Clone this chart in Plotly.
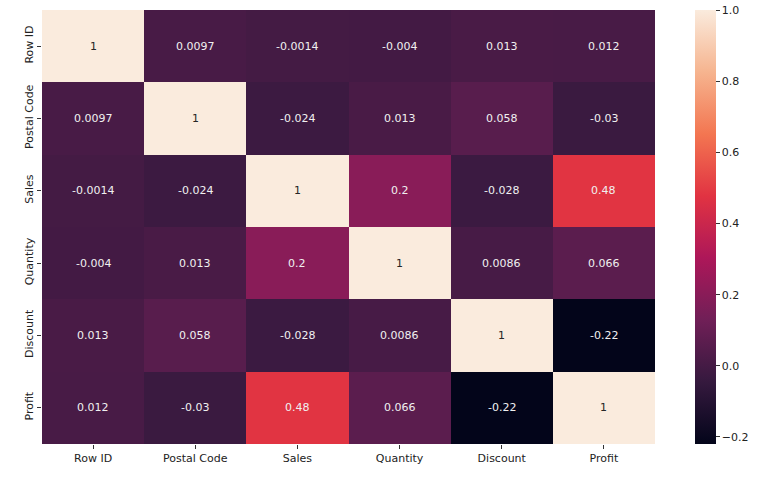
import plotly.graph_objects as go

labels = ["Row ID", "Postal Code", "Sales", "Quantity", "Discount", "Profit"]
corr = [
    [1, 0.0097, -0.0014, -0.004, 0.013, 0.012],
    [0.0097, 1, -0.024, 0.013, 0.058, -0.03],
    [-0.0014, -0.024, 1, 0.2, -0.028, 0.48],
    [-0.004, 0.013, 0.2, 1, 0.0086, 0.066],
    [0.013, 0.058, -0.028, 0.0086, 1, -0.22],
    [0.012, -0.03, 0.48, 0.066, -0.22, 1],
]
cbar_ticks = [-0.2, 0.0, 0.2, 0.4, 0.6, 0.8, 1.0]

rocket = [
    [0.0, "#03051a"],
    [1/7, "#35193e"],
    [2/7, "#701f57"],
    [3/7, "#ad1759"],
    [4/7, "#e13342"],
    [5/7, "#f37651"],
    [6/7, "#f6b48f"],
    [1.0, "#faebdd"],
]

fig = go.Figure(go.Heatmap(
    z=corr, x=labels, y=labels,
    colorscale=rocket, zmin=-0.22, zmax=1.001,
    showscale=True,
    colorbar=dict(
        x=1.0655, xanchor="left", xpad=0, ypad=0,
        y=0.5, yanchor="middle", len=1, lenmode="fraction",
        thickness=21, outlinewidth=0,
        tickvals=cbar_ticks, tickformat=".1f",
        ticks="outside", ticklen=4, tickcolor="#333",
        tickfont=dict(family="DejaVu Sans", size=11, color="#222"),
    ),
    hoverinfo="skip",
))

def fmt(v):
    return "1" if v == 1 else f"{v:g}"

ann = []
for i, row in enumerate(corr):
    for j, v in enumerate(row):
        ann.append(dict(
            x=labels[j], y=labels[i], text=fmt(v), showarrow=False,
            font=dict(family="DejaVu Sans", size=11,
                      color="#262626" if v > 0.7 else "#f0f0f0"),
        ))

fig.update_layout(
    width=762, height=481,
    margin=dict(l=42, r=107, t=10, b=37),
    paper_bgcolor="white", plot_bgcolor="white",
    annotations=ann,
    font=dict(family="DejaVu Sans", size=11, color="#222"),
    xaxis=dict(showgrid=False, zeroline=False, ticks="outside", ticklen=4,
               tickcolor="#333", tickfont=dict(size=11, color="#222")),
    yaxis=dict(showgrid=False, zeroline=False, ticks="outside", ticklen=4,
               tickcolor="#333", autorange="reversed", tickangle=-90,
               tickfont=dict(size=11, color="#222")),
)

fig.write_html("out.html", config={"displayModeBar": False},
               post_script="document.body.style.margin='0';")
